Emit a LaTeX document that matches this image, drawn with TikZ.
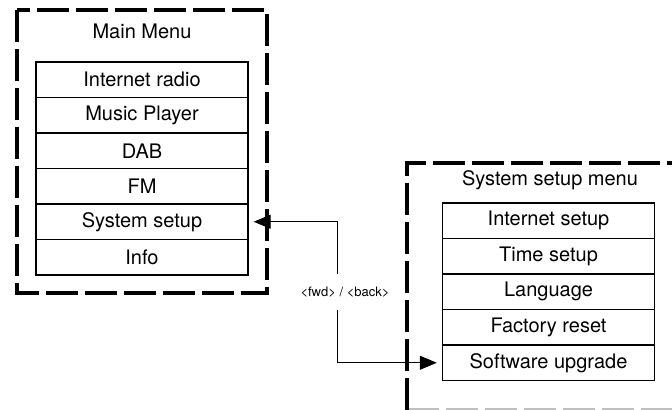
\documentclass[tikz,border=0pt]{standalone}
\usepackage{fontspec}
\setmainfont{TeX Gyre Heros}
\usetikzlibrary{arrows.meta}
\tikzset{
  frame/.style={line width=1.6pt, dash pattern=on 16pt off 3.5pt},
  item/.style={draw, line width=0.7pt, minimum width=106pt, minimum height=17.75pt,
    inner sep=0pt, font=\fontsize{10}{12}\selectfont},
  title/.style={font=\fontsize{10}{12}\selectfont},
  keys/.style={font=\fontsize{6.5}{8}\selectfont, inner xsep=0pt, inner ysep=6pt},
  link/.style={line width=0.5pt, shorten >=2.5pt, -{Triangle[length=8.5pt,width=7pt]}}
}
\begin{document}
\begin{tikzpicture}[x=0.5pt,y=-0.5pt]
      \useasboundingbox (0,0) rectangle (672,409);
      \begin{scope}
        \clip (0,0) rectangle (672,409);
        \draw[frame] (17,10) rectangle (267,293);
        \draw[frame, draw=black!25] (407,410) -- (700,410);
        \draw[frame] (407,410) -- (407,163) -- (700,163);
      \end{scope}
      \draw
        (142,31) node[title] (main){Main Menu}
        (142,79.75) node[item] (radio){Internet radio}
        (142,115.25) node[item] (music){Music Player}
        (142,150.75) node[item] (dab){DAB}
        (142,186.25) node[item] (fm){FM}
        (142,221.75) node[item] (sys){System setup}
        (142,257.25) node[item] (info){Info};
      \draw
        (550,180) node[title] (setup){System setup menu}
        (548.5,220.75) node[item] (inet){Internet setup}
        (548.5,256.25) node[item] (time){Time setup}
        (548.5,291.75) node[item] (lang){Language}
        (548.5,327.25) node[item] (reset){Factory reset}
        (548.5,362.75) node[item] (soft){Software upgrade};
      \node[keys] (fwd) at (345,292) {<fwd> / <back>};
      \coordinate (turn) at (337,292);
      \begin{scope}[link]
        \draw (turn |- fwd.north) |- (sys.east);
        \draw (turn |- fwd.south) |- (soft.west);
      \end{scope}
    \end{tikzpicture}
\end{document}
